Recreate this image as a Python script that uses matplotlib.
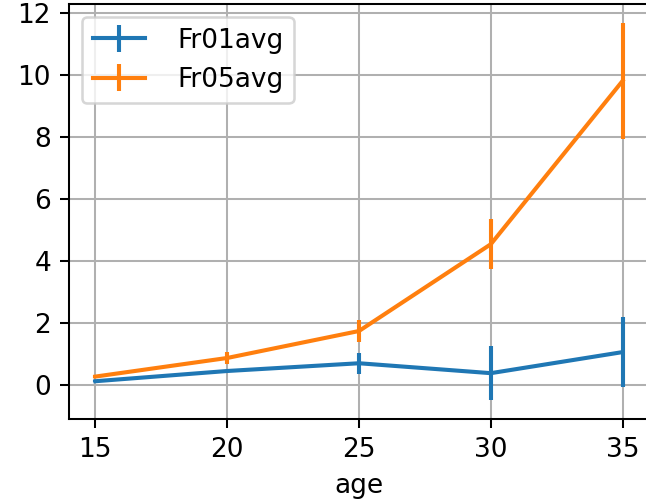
import matplotlib
matplotlib.use("Agg")
import matplotlib.pyplot as plt

age = [15, 20, 25, 30, 35]
fr01avg = [0.13, 0.46, 0.71, 0.39, 1.07]
fr01err = [0.03, 0.03, 0.34, 0.87, 1.12]
fr05avg = [0.28, 0.88, 1.75, 4.55, 9.82]
fr05err = [0.05, 0.2, 0.37, 0.8, 1.87]

plt.rcParams["font.size"] = 10.3

DPI = 184
fig = plt.figure(figsize=(646 / DPI, 503 / DPI), dpi=DPI)
ax = fig.add_axes([69 / 646, 84 / 503, 580 / 646, 415 / 503])

ax.errorbar(age, fr01avg, yerr=fr01err, label="Fr01avg", lw=1.6)
ax.errorbar(age, fr05avg, yerr=fr05err, label="Fr05avg", lw=1.6)

ax.set_xlabel("age")
ax.set_xticks(age)
ax.grid(True)
ax.legend(loc="upper left", handletextpad=1.2)

fig.savefig("out.png", dpi=DPI)
